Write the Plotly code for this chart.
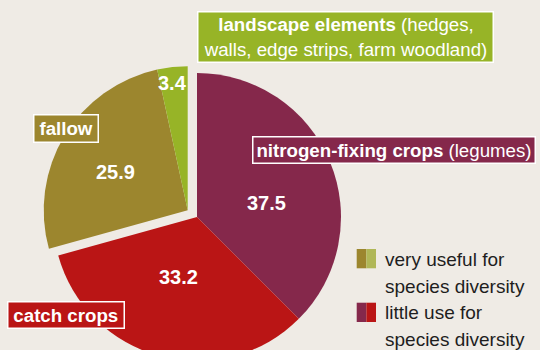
import plotly.graph_objects as go

# Share of ecological focus areas by type (%)
categories = ["nitrogen-fixing crops", "catch crops", "fallow", "landscape elements"]
shares = [37.5, 33.2, 25.9, 3.4]

box_titles = {
    "landscape elements": "<b>landscape elements</b> (hedges,<br>walls, edge strips, farm woodland)",
    "nitrogen-fixing crops": "<b>nitrogen-fixing crops</b> (legumes)",
    "fallow": "<b>fallow</b>",
    "catch crops": "<b>catch crops</b>",
}
legend_lines = [["very useful for", "species diversity"],
                ["little use for", "species diversity"]]

PURPLE = "#85284B"
RED = "#BA1515"
OLIVE = "#9C862E"
GREEN = "#97B427"
PALE_GREEN = "#B0B757"
BG = "#EFEBE5"
CLEAR = "rgba(0,0,0,0)"
FONT = "Liberation Sans, Arial, sans-serif"

W, H = 540, 370


def px(x):
    return x / W


def py(y):
    return (H - y) / H


slice_colors = {
    "nitrogen-fixing crops": PURPLE,
    "catch crops": RED,
    "fallow": OLIVE,
    "landscape elements": GREEN,
}
useful = {"fallow", "landscape elements"}

# pie centre and radius in pixels; the "very useful" group is pulled out together
cx, cy, r = 197.0, 217.0, 144.0
sx, sy = -9.3, -6.7

fig = go.Figure()
for group, (ox, oy) in ((False, (0, 0)), (True, (sx, sy))):
    colors = [slice_colors[c] if ((c in useful) == group) else CLEAR for c in categories]
    fig.add_trace(go.Pie(
        labels=categories,
        values=shares,
        sort=False,
        direction="clockwise",
        rotation=0,
        marker=dict(colors=colors, line=dict(width=0)),
        textinfo="none",
        hoverinfo="label+value",
        showlegend=False,
        domain=dict(
            x=[px(cx + ox - r), px(cx + ox + r)],
            y=[py(cy + oy + r), py(cy + oy - r)],
        ),
    ))

annotations = []

# value labels
value_pos = {
    "nitrogen-fixing crops": (266.5, 203.3),
    "catch crops": (178.5, 277.0),
    "fallow": (115.5, 171.7),
    "landscape elements": (172.3, 82.5),
}
for cat, val in zip(categories, shares):
    x, y = value_pos[cat]
    annotations.append(dict(
        x=px(x), y=py(y), xref="paper", yref="paper",
        text=f"<b>{val:.1f}</b>", showarrow=False,
        xanchor="center", yanchor="middle",
        font=dict(family=FONT, size=20, color="white"),
    ))

# category name boxes: centre x, centre y, outer width, outer height
box_geom = {
    "landscape elements": (345.3, 36.7, 297.0, 52.0),
    "nitrogen-fixing crops": (394.4, 150.2, 284.0, 28.3),
    "fallow": (65.8, 128.7, 66.3, 29.3),
    "catch crops": (65.5, 314.8, 117.6, 28.3),
}
bw, bpad = 1.5, 1.0
for cat in categories:
    x, y, w, h = box_geom[cat]
    annotations.append(dict(
        x=px(x), y=py(y), xref="paper", yref="paper",
        text=box_titles[cat], showarrow=False,
        xanchor="center", yanchor="middle", align="center",
        width=w - 2 * (bw + bpad), height=h - 2 * (bw + bpad),
        bgcolor=slice_colors[cat], bordercolor="white",
        borderwidth=bw, borderpad=bpad,
        font=dict(family=FONT, size=18.7, color="white"),
    ))

# legend: two-tone swatches and two-line captions
shapes = []
swatches = [((OLIVE, PALE_GREEN), 249.0), ((PURPLE, RED), 302.7)]
for (c1, c2), top in swatches:
    for i, c in enumerate((c1, c2)):
        x0 = 356.7 + i * 9.65
        shapes.append(dict(
            type="rect", xref="paper", yref="paper",
            x0=px(x0), x1=px(x0 + 9.65), y0=py(top + 19.3), y1=py(top),
            fillcolor=c, line=dict(width=0),
        ))

line_y = [259.5, 286.0, 312.5, 339.0]
k = 0
for lines in legend_lines:
    for line in lines:
        annotations.append(dict(
            x=px(383.3), y=py(line_y[k]), xref="paper", yref="paper",
            text=line, showarrow=False,
            xanchor="left", yanchor="middle",
            font=dict(family=FONT, size=19, color="#1E1E1E"),
        ))
        k += 1

fig.update_layout(
    width=W, height=H,
    margin=dict(l=0, r=0, t=0, b=0),
    paper_bgcolor=BG, plot_bgcolor=BG,
    annotations=annotations, shapes=shapes,
    showlegend=False,
)

fig.write_html(
    "out.html",
    config={"displayModeBar": False},
    post_script="document.body.style.margin='0';document.body.style.overflow='hidden';",
)
